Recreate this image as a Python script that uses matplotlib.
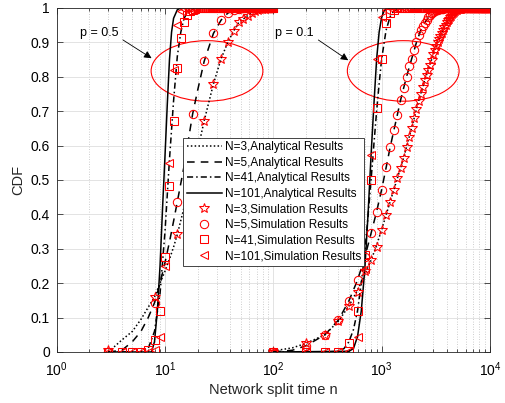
import numpy as np
import matplotlib
matplotlib.use("Agg")
import matplotlib.pyplot as plt
from matplotlib.patches import Ellipse
from matplotlib.ticker import LogLocator, NullFormatter

plt.rcParams["font.family"] = ["Liberation Sans", "DejaVu Sans"]
plt.rcParams["mathtext.fontset"] = "custom"
plt.rcParams["mathtext.rm"] = "Liberation Sans"
plt.rcParams["mathtext.it"] = "Liberation Sans:italic"

# ---- simulation sample points ----
n05_coarse = np.arange(3, 101, 5)     # N=3, N=5 at p=0.5
n05_fine = np.arange(3, 101)          # N=41, N=101 at p=0.5
n01 = np.arange(100, 10001, 100)      # all N at p=0.1

sim05_n3 = [0.005, 0.16, 0.342, 0.53, 0.672, 0.779, 0.853, 0.9, 0.933, 0.958,
            0.968, 0.978, 0.986, 0.991, 0.994, 0.996, 0.998, 0.999, 1.0, 1.0]
sim05_n5 = [0.0, 0.143, 0.437, 0.692, 0.845, 0.926, 0.965, 0.985, 0.993, 0.997, 0.999]
sim05_n41 = [0, 0, 0, 0, 0.005, 0.035, 0.12, 0.275, 0.483, 0.672, 0.825, 0.912,
             0.96, 0.98, 0.99, 0.995, 0.998]
sim05_n101 = [0, 0, 0, 0, 0, 0.005, 0.043, 0.25, 0.55, 0.82, 0.95, 0.99, 0.998]

sim01_n3 = [0, 0.025, 0.05, 0.09, 0.134, 0.175, 0.236, 0.267, 0.306, 0.355,
            0.398, 0.437, 0.47, 0.505, 0.535, 0.565, 0.595, 0.625, 0.65, 0.68,
            0.705, 0.73, 0.75, 0.77, 0.79, 0.805, 0.82, 0.835, 0.85, 0.865,
            0.877, 0.889, 0.9, 0.91, 0.919, 0.928, 0.936, 0.944, 0.951, 0.958,
            0.964, 0.969, 0.974, 0.978, 0.982, 0.986, 0.989, 0.992, 0.994, 0.995,
            0.996, 0.997, 0.998, 0.998, 0.999, 0.999]
sim01_n5 = [0, 0.018, 0.05, 0.093, 0.149, 0.209, 0.275, 0.345, 0.408, 0.471,
            0.539, 0.597, 0.645, 0.689, 0.733, 0.767, 0.80, 0.83, 0.853, 0.878,
            0.9, 0.92, 0.935, 0.947, 0.957, 0.966, 0.973, 0.979, 0.984, 0.988,
            0.991, 0.993, 0.995, 0.996, 0.997, 0.998, 0.998, 0.999]
sim01_n41 = [0, 0, 0, 0, 0.027, 0.119, 0.282, 0.5, 0.708, 0.851, 0.955, 0.985, 0.995, 0.999]
sim01_n101 = [0, 0, 0, 0, 0.003, 0.045, 0.24, 0.573, 0.851, 0.975, 0.995, 0.999]

# ---- analytical curves ----
ana05_n3_x = [3, 4, 5, 6, 7, 8, 9, 10, 11, 12, 13, 15, 18, 20, 23, 28, 33, 38, 43,
              48, 53, 58, 63, 70, 80, 90, 100]
ana05_n3_y = [0, 0.035, 0.06, 0.095, 0.13, 0.16, 0.2, 0.235, 0.27, 0.305, 0.342,
              0.42, 0.52, 0.585, 0.672, 0.779, 0.853, 0.9, 0.933, 0.958, 0.968,
              0.978, 0.986, 0.993, 0.998, 1, 1]
ana05_n5_x = [3, 4, 5, 6, 7, 8, 9, 10, 11, 12, 13, 15, 18, 20, 23, 28, 33, 38, 43,
              50, 60, 100]
ana05_n5_y = [0, 0.005, 0.03, 0.06, 0.1, 0.143, 0.2, 0.26, 0.32, 0.38, 0.437, 0.54,
              0.692, 0.76, 0.845, 0.926, 0.965, 0.985, 0.993, 0.998, 1, 1]
ana05_n41_x = [3, 6, 7, 8, 9, 10, 11, 12, 13, 14, 15, 16, 18, 20, 100]
ana05_n41_y = [0, 0, 0.01, 0.06, 0.17, 0.35, 0.56, 0.73, 0.86, 0.93, 0.97, 0.985,
               0.997, 1, 1]
ana05_n101_x = [3, 7.5, 8, 8.5, 9, 9.5, 10, 10.5, 11, 11.5, 12, 13, 14, 100]
ana05_n101_y = [0, 0, 0.03, 0.12, 0.25, 0.42, 0.57, 0.72, 0.85, 0.93, 0.97, 0.995, 1, 1]

ana01_n3_x = [100, 150, 200, 300, 400, 500, 600, 700, 800, 900, 1000, 1200, 1400,
              1600, 1800, 2000, 2200, 2500, 2800, 3000, 3300, 3700, 4100, 4500,
              5000, 6000, 10000]
ana01_n3_y = [0.003, 0.012, 0.025, 0.05, 0.09, 0.134, 0.18, 0.225, 0.267, 0.31,
              0.355, 0.437, 0.505, 0.565, 0.625, 0.68, 0.73, 0.79, 0.835, 0.865,
              0.9, 0.936, 0.964, 0.982, 0.995, 1, 1]
ana01_n5_x = [100, 150, 200, 300, 400, 500, 600, 700, 800, 900, 1000, 1100, 1200,
              1300, 1400, 1500, 1700, 1900, 2100, 2300, 2500, 2800, 3200, 3800, 10000]
ana01_n5_y = [0, 0.005, 0.018, 0.05, 0.093, 0.149, 0.209, 0.275, 0.345, 0.408,
              0.471, 0.535, 0.595, 0.645, 0.69, 0.733, 0.80, 0.853, 0.9, 0.935,
              0.957, 0.979, 0.993, 0.999, 1]
ana01_n41_x = [100, 300, 400, 450, 500, 550, 600, 650, 700, 750, 800, 850, 900, 950,
               1000, 1100, 1200, 1300, 1500, 2000, 10000]
ana01_n41_y = [0, 0, 0.002, 0.01, 0.03, 0.065, 0.12, 0.2, 0.29, 0.395, 0.5, 0.605,
               0.7, 0.78, 0.85, 0.935, 0.975, 0.992, 0.999, 1, 1]
ana01_n101_x = [100, 500, 550, 600, 650, 700, 750, 800, 850, 900, 950, 1000, 1050,
                1100, 1200, 10000]
ana01_n101_y = [0, 0.002, 0.01, 0.045, 0.12, 0.24, 0.4, 0.573, 0.72, 0.851, 0.93,
                0.972, 0.99, 0.997, 1, 1]

y_ticks = [0, 0.1, 0.2, 0.3, 0.4, 0.5, 0.6, 0.7, 0.8, 0.9, 1]
y_ticklabels = ["0", "0.1", "0.2", "0.3", "0.4", "0.5", "0.6", "0.7", "0.8", "0.9", "1"]


def pad_ones(vals, n):
    # markers sit on CDF = 1 after the listed transition part
    return np.r_[np.asarray(vals, float), np.ones(len(n) - len(vals))]


fig = plt.figure(figsize=(5.05, 4.03), dpi=100)
ax = fig.add_axes([0.1123, 0.1266, 0.8577, 0.8536])

line_styles = {
    3: dict(ls=(0, (1, 1.5))),
    5: dict(ls=(0, (5, 4))),
    41: dict(ls=(0, (4, 2, 1, 2))),
    101: dict(ls="-"),
}
ana = {
    3: (ana05_n3_x, ana05_n3_y, ana01_n3_x, ana01_n3_y),
    5: (ana05_n5_x, ana05_n5_y, ana01_n5_x, ana01_n5_y),
    41: (ana05_n41_x, ana05_n41_y, ana01_n41_x, ana01_n41_y),
    101: (ana05_n101_x, ana05_n101_y, ana01_n101_x, ana01_n101_y),
}
handles = []
for N, (x5, y5, x1, y1) in ana.items():
    h, = ax.plot(x5, y5, color="black", lw=1.1, **line_styles[N],
                 label=f"N={N},Analytical Results")
    ax.plot(x1, y1, color="black", lw=1.1, **line_styles[N])
    handles.append(h)

marker_size = {"*": 7.5, "o": 6, "s": 5.5, "<": 6}
sims = [
    (3, "*", n05_coarse, sim05_n3, sim01_n3),
    (5, "o", n05_coarse, sim05_n5, sim01_n5),
    (41, "s", n05_fine, sim05_n41, sim01_n41),
    (101, "<", n05_fine, sim05_n101, sim01_n101),
]
for N, mk, n5, s5, s1 in sims:
    kw = dict(ls="none", marker=mk, ms=marker_size[mk], mfc="none",
              mec="red", mew=0.75)
    h, = ax.plot(n5, pad_ones(s5, n5), label=f"N={N},Simulation Results", **kw)
    ax.plot(n01, pad_ones(s1, n01), **kw)
    handles.append(h)

ax.set_xscale("log")
ax.set_xlim(1, 1e4)
ax.set_ylim(0, 1)
ax.set_yticks(y_ticks)
ax.set_yticklabels(y_ticklabels)
ax.xaxis.set_major_locator(LogLocator(base=10, numticks=10))
ax.xaxis.set_minor_locator(LogLocator(base=10, subs=np.arange(2, 10), numticks=50))
ax.xaxis.set_minor_formatter(NullFormatter())

ax.set_axisbelow(True)
ax.grid(which="major", color="#dedede", lw=0.6, ls="-")
ax.grid(which="minor", axis="x", color="#bdbdbd", lw=0.6, ls=(0, (1, 2)))
ax.tick_params(which="both", direction="in", top=True, right=True,
               labelsize=10, color="0.2", width=0.6)
ax.tick_params(which="major", length=4)
ax.tick_params(which="minor", length=2)
ax.tick_params(axis="x", which="major", pad=6)
ax.tick_params(axis="y", which="major", pad=5)
for s in ax.spines.values():
    s.set_linewidth(0.6)
    s.set_color("0.15")

ax.set_xlabel("Network split time n", fontsize=10.5, color="0.15", labelpad=3)
ax.set_ylabel("CDF", fontsize=10.5, color="0.15", labelpad=4)

leg = ax.legend(handles=handles, loc="upper left", bbox_to_anchor=(0.292, 0.623),
                borderaxespad=0, fontsize=8.5, handlelength=3.0, handletextpad=0.2,
                labelspacing=0.3, borderpad=0.3, fancybox=False, framealpha=1,
                edgecolor="0.15")
leg.get_frame().set_linewidth(0.6)

# annotations
for cx in (0.347, 0.80):
    ax.add_patch(Ellipse((cx, 0.817), 0.258, 0.176, transform=ax.transAxes,
                         fill=False, ec="red", lw=0.8))
ax.text(0.098, 0.927, "p = 0.5", transform=ax.transAxes, ha="center", va="center",
        fontsize=9)
ax.text(0.548, 0.927, "p = 0.1", transform=ax.transAxes, ha="center", va="center",
        fontsize=9)
arrow = dict(arrowstyle="-|>", color="black", lw=0.6, mutation_scale=11,
             shrinkA=0, shrinkB=0)
ax.annotate("", xy=(0.219, 0.854), xytext=(0.153, 0.907), xycoords="axes fraction",
            arrowprops=arrow)
ax.annotate("", xy=(0.673, 0.848), xytext=(0.604, 0.907), xycoords="axes fraction",
            arrowprops=arrow)

fig.savefig("out.png", dpi=100)
